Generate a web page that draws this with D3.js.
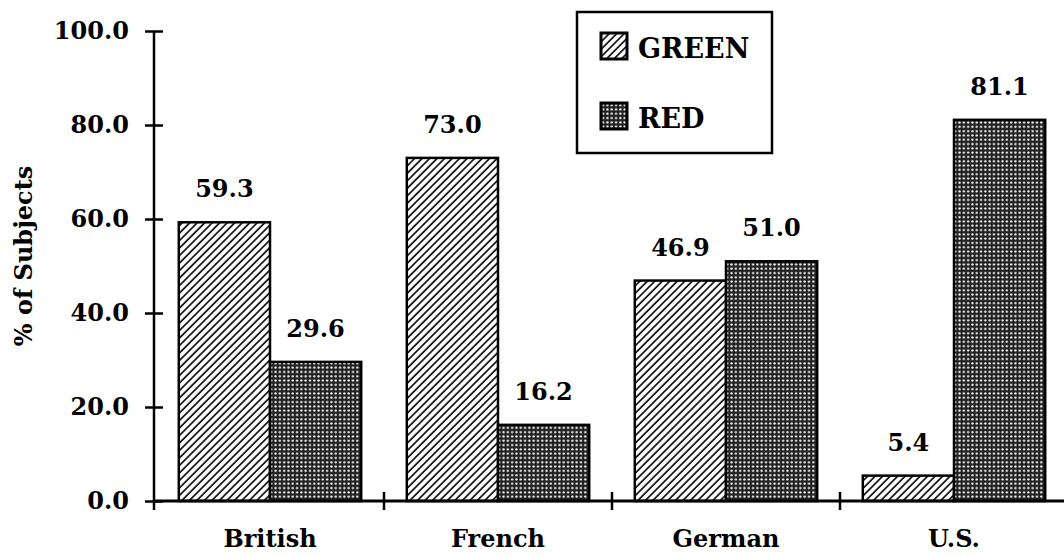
<!DOCTYPE html>
<html>
<head>
<meta charset="utf-8">
<script src="https://cdn.jsdelivr.net/npm/d3@7"></script>
<style>
	body { margin: 0; background: #fff; }
</style>
</head>
<body>
<svg id="chart"></svg>
<script>
const categories = ["British", "French", "German", "U.S."];
const series = ["GREEN", "RED"];
const greenValues = [59.3, 73.0, 46.9, 5.4];
const redValues = [29.6, 16.2, 51.0, 81.1];
const yTicks = [0, 20, 40, 60, 80, 100];

const viewWidth = 1064;
const viewHeight = 557;
const fontFamily = "'DejaVu Serif', serif";

const svg = d3.select("#chart")
	.attr("width", viewWidth)
	.attr("height", viewHeight);

const defs = svg.append("defs");

// diagonal hatch for GREEN
const hatch = defs.append("pattern")
	.attr("id", "hatch")
	.attr("patternUnits", "userSpaceOnUse")
	.attr("width", 5.3)
	.attr("height", 5.3)
	.attr("patternTransform", "rotate(45)");
hatch.append("rect").attr("width", 5.3).attr("height", 5.3).attr("fill", "#fff");
hatch.append("line")
	.attr("x1", 1).attr("y1", 0).attr("x2", 1).attr("y2", 5.3)
	.attr("stroke", "#000").attr("stroke-width", 1.6);

// dotted screen for RED
const dots = defs.append("pattern")
	.attr("id", "dots")
	.attr("patternUnits", "userSpaceOnUse")
	.attr("width", 4.3)
	.attr("height", 4.3);
dots.append("rect").attr("width", 4.3).attr("height", 4.3).attr("fill", "#222");
dots.append("circle").attr("cx", 2.15).attr("cy", 2.15).attr("r", 1.15).attr("fill", "#fff");

const fills = { GREEN: "url(#hatch)", RED: "url(#dots)" };

const x = d3.scaleBand()
	.domain(categories)
	.range([156, 1068])
	.paddingInner(0.2)
	.paddingOuter(0.1);

const xs = d3.scaleBand()
	.domain(series)
	.range([0, x.bandwidth()]);

const y = d3.scaleLinear()
	.domain([0, 100])
	.range([501, 31]);

const axisX = 154;

// bars
const data = categories.map(function (c, i) {
	return { cat: c, GREEN: greenValues[i], RED: redValues[i] };
});

const groups = svg.append("g")
	.selectAll("g")
	.data(data)
	.join("g")
	.attr("transform", function (d) { return "translate(" + x(d.cat) + ",0)"; });

groups.selectAll("rect")
	.data(function (d) { return series.map(function (s) { return { key: s, value: d[s] }; }); })
	.join("rect")
	.attr("x", function (d) { return xs(d.key); })
	.attr("y", function (d) { return y(d.value); })
	.attr("width", xs.bandwidth())
	.attr("height", function (d) { return y(0) - y(d.value); })
	.attr("fill", function (d) { return fills[d.key]; })
	.attr("stroke", "#000")
	.attr("stroke-width", 2.5);

groups.selectAll("text.value")
	.data(function (d) { return series.map(function (s) { return { key: s, value: d[s] }; }); })
	.join("text")
	.attr("class", "value")
	.attr("x", function (d) { return xs(d.key) + xs.bandwidth() / 2; })
	.attr("y", function (d) { return y(d.value) - 25; })
	.attr("text-anchor", "middle")
	.style("font-family", fontFamily)
	.style("font-weight", "bold")
	.style("font-size", "24px")
	.text(function (d) { return d3.format(".1f")(d.value); });

// x axis
svg.append("line")
	.attr("x1", axisX).attr("x2", viewWidth)
	.attr("y1", y(0)).attr("y2", y(0))
	.attr("stroke", "#000").attr("stroke-width", 3);

const xAxis = svg.append("g")
	.attr("transform", "translate(0," + y(0) + ")")
	.call(d3.axisBottom(x).tickSize(0).tickPadding(0));
xAxis.select(".domain").remove();
xAxis.selectAll("text")
	.attr("dy", null)
	.attr("y", 46)
	.attr("fill", "#000")
	.style("font-family", fontFamily)
	.style("font-weight", "bold")
	.style("font-size", "24px");

svg.append("g")
	.selectAll("line")
	.data(categories.slice(1))
	.join("line")
	.attr("x1", function (c) { return x(c) - (x.step() - x.bandwidth()) / 2; })
	.attr("x2", function (c) { return x(c) - (x.step() - x.bandwidth()) / 2; })
	.attr("y1", y(0) - 9)
	.attr("y2", y(0) + 9)
	.attr("stroke", "#000")
	.attr("stroke-width", 2.5);

// y axis
const yAxis = svg.append("g")
	.attr("transform", "translate(" + axisX + ",0)")
	.call(d3.axisLeft(y).tickValues(yTicks).tickFormat(d3.format(".1f")).tickSize(9).tickPadding(16));
yAxis.select(".domain").remove();
yAxis.selectAll(".tick line")
	.attr("x1", 9)
	.attr("stroke-width", 2.5);
yAxis.selectAll("text")
	.attr("dy", "0.3em")
	.attr("fill", "#000")
	.style("font-family", fontFamily)
	.style("font-weight", "bold")
	.style("font-size", "24px");

svg.append("line")
	.attr("x1", axisX).attr("x2", axisX)
	.attr("y1", y(100)).attr("y2", y(0) + 9)
	.attr("stroke", "#000").attr("stroke-width", 2.5);

svg.append("text")
	.attr("transform", "translate(32,256) rotate(-90)")
	.attr("text-anchor", "middle")
	.style("font-family", fontFamily)
	.style("font-weight", "bold")
	.style("font-size", "24px")
	.text("% of Subjects");

// legend
const legend = svg.append("g").attr("transform", "translate(577,12)");
legend.append("rect")
	.attr("width", 195)
	.attr("height", 141)
	.attr("fill", "#fff")
	.attr("stroke", "#000")
	.attr("stroke-width", 2.5);

const items = legend.selectAll("g.item")
	.data(series)
	.join("g")
	.attr("class", "item")
	.attr("transform", function (d, i) { return "translate(24," + (21 + i * 70) + ")"; });

items.append("rect")
	.attr("width", 26)
	.attr("height", 26)
	.attr("fill", function (d) { return fills[d]; })
	.attr("stroke", "#000")
	.attr("stroke-width", 3);

items.append("text")
	.attr("x", 37)
	.attr("y", 25)
	.style("font-family", fontFamily)
	.style("font-weight", "bold")
	.style("font-size", "27px")
	.text(function (d) { return d; });
</script>
</body>
</html>
